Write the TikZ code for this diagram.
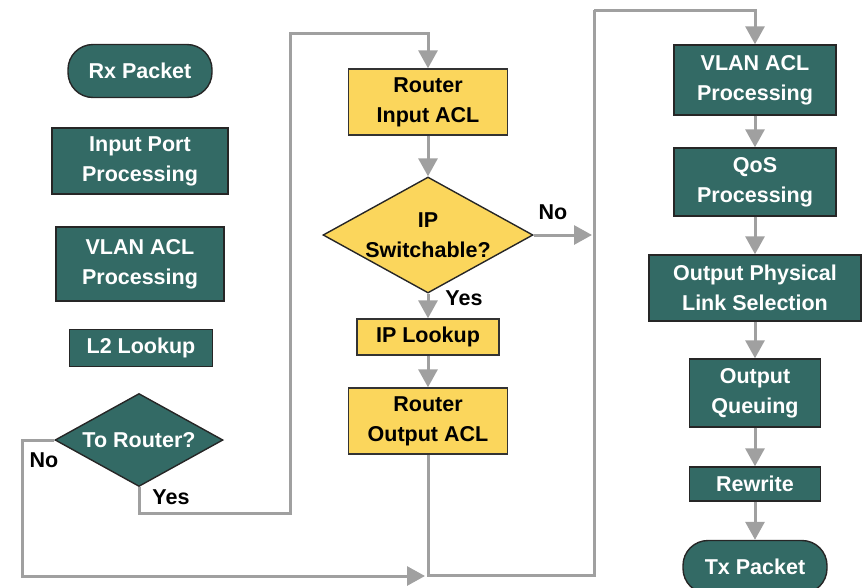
\documentclass[tikz,border=0pt]{standalone}
\usepackage{fontspec}
\setmainfont{Liberation Sans}
\usetikzlibrary{arrows.meta,shapes.geometric}
\definecolor{tealbox}{RGB}{51,106,101}
\definecolor{yelbox}{RGB}{251,214,92}
\definecolor{flowgray}{RGB}{160,160,160}
\tikzset{
  txt/.style={font=\bfseries\fontsize{21.5}{30}\selectfont, align=center},
  tbox/.style={txt, draw=black!85, line width=1.4pt, fill=tealbox, text=white, inner sep=0pt},
  ybox/.style={txt, draw=black!80, line width=1.4pt, fill=yelbox, text=black, inner sep=0pt},
  term/.style={tbox, rounded corners=25pt},
  dia/.style={shape=diamond, draw=black!85, line width=1.4pt, inner sep=0pt},
  gl/.style={draw=flowgray, line width=3pt},
  ar/.style={gl, -{Triangle[length=18pt,width=19pt]}},
  lbl/.style={font=\bfseries\fontsize{21.5}{30}\selectfont, text=black}
}
\begin{document}
\begin{tikzpicture}[x=1pt,y=-1pt]
\useasboundingbox (0,0) rectangle (863,587);
\clip (0,0) rectangle (863,587);
% left column
\node[term, minimum width=144pt, minimum height=53pt] (rx) at (140,71) {Rx Packet};
\node[tbox, minimum width=176pt, minimum height=66pt] (ipp) at (140,161) {Input Port\\Processing};
\node[tbox, minimum width=168pt, minimum height=74pt] (vl) at (140,264) {VLAN ACL\\Processing};
\node[tbox, minimum width=143pt, minimum height=37pt] (l2) at (141,348) {L2 Lookup};
\node[dia, fill=tealbox, minimum width=168pt, minimum height=93pt] (tr) at (139,440) {};
\node[txt, text=white] (trt) at (tr) {To Router?};
\node[lbl] (trno) at (44,460) {No};
\node[lbl] (tryes) at (171,497) {Yes};
% middle column
\node[ybox, minimum width=159pt, minimum height=66pt] (ria) at (428,102) {Router\\Input ACL};
\node[dia, fill=yelbox, minimum width=210pt, minimum height=116pt] (ips) at (428,235) {};
\node[txt, text=black] (ipst) at (ips) {IP\\Switchable?};
\node[lbl] (ipsno) at (553,212) {No};
\node[lbl] (ipsyes) at (464,298) {Yes};
\node[ybox, minimum width=142pt, minimum height=36pt] (ipl) at (428,337) {IP Lookup};
\node[ybox, minimum width=159pt, minimum height=66pt] (roa) at (428,421) {Router\\Output ACL};
% right column
\node[tbox, minimum width=162pt, minimum height=70pt] (vr) at (755,80) {VLAN ACL\\Processing};
\node[tbox, minimum width=162pt, minimum height=68pt] (qos) at (755,182) {QoS\\Processing};
\node[tbox, minimum width=212pt, minimum height=66pt] (opls) at (755,288) {Output Physical\\Link Selection};
\node[tbox, minimum width=131pt, minimum height=68pt] (oq) at (755,393) {Output\\Queuing};
\node[tbox, minimum width=131pt, minimum height=34pt] (rw) at (755,484) {Rewrite};
\node[term, minimum width=144pt, minimum height=53pt] (tx) at (755,567) {Tx Packet};
% coordinates
\coordinate (noL) at (22,440);
\coordinate (noB) at (22,576);
\coordinate (noEnd) at (425,576);
\coordinate (yB) at (290,513);
\coordinate (yT) at (290,33);
\coordinate (ipsNo) at (592,235);
\coordinate (roB) at (428,575);
\coordinate (rB) at (594,575);
\coordinate (rT) at (594,10);
% connectors
\draw[ar] (tr.west) -- (noL) -- (noB) -- (noEnd);
\draw[ar] (tr.south) |- (yB) -- (yT) -| (ria.north);
\draw[ar] (ria.south) -- (ips.north);
\draw[ar] (ips.east) -- (ipsNo);
\draw[ar] (ips.south) -- (ipl.north);
\draw[ar] (ipl.south) -- (roa.north);
\draw[gl] (roa.south) -- (roB) -- (rB) -- (rT);
\draw[ar] (rT) -| (vr.north);
\draw[ar] (vr.south) -- (qos.north);
\draw[ar] (qos.south) -- (opls.north);
\draw[ar] (opls.south) -- (oq.north);
\draw[ar] (oq.south) -- (rw.north);
\draw[ar] (rw.south) -- (tx.north);
\end{tikzpicture}
\end{document}
